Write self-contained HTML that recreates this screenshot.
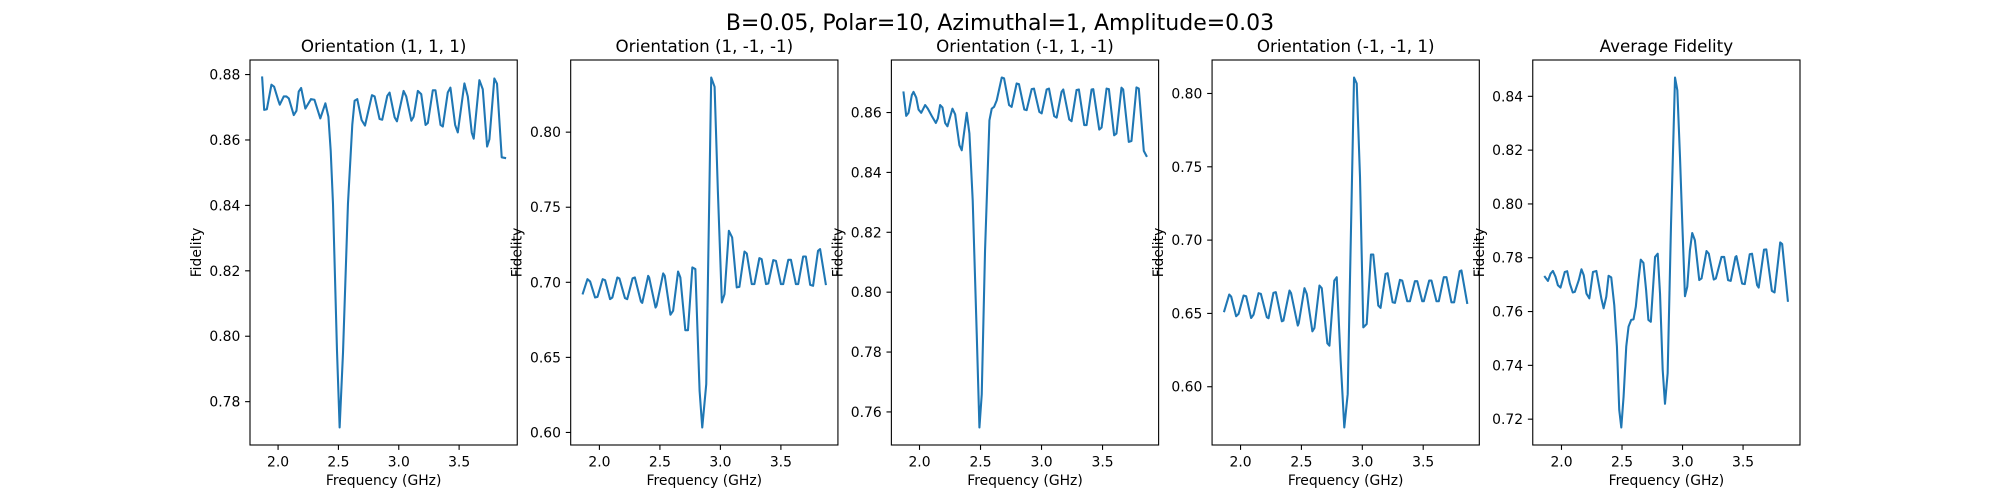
<!DOCTYPE html>
<html><head><meta charset="utf-8"><style>
html,body{margin:0;padding:0;background:#fff;}
svg{display:block;font-family:"DejaVu Sans","Liberation Sans",sans-serif;}
</style></head><body>
<svg id="fig" width="2000" height="500" viewBox="0 0 2000 500" xmlns="http://www.w3.org/2000/svg">
<rect width="2000" height="500" fill="#fff"/>
<text x="1000" y="30" font-size="22" text-anchor="middle">B=0.05, Polar=10, Azimuthal=1, Amplitude=0.03</text>
</svg>
<script>
const titles = ["Orientation (1, 1, 1)","Orientation (1, -1, -1)","Orientation (-1, 1, -1)","Orientation (-1, -1, 1)","Average Fidelity"];
const xTicks = [2.0, 2.5, 3.0, 3.5];
const xTickLabels = ["2.0","2.5","3.0","3.5"];
const yTicks1 = [0.78,0.80,0.82,0.84,0.86,0.88];
const yTicks2 = [0.60,0.65,0.70,0.75,0.80];
const yTicks3 = [0.76,0.78,0.80,0.82,0.84,0.86];
const yTicks4 = [0.60,0.65,0.70,0.75,0.80];
const yTicks5 = [0.72,0.74,0.76,0.78,0.80,0.82,0.84];

const freq1 = [1.868,1.885,1.907,1.945,1.967,2.000,2.014,2.047,2.069,2.089,2.130,2.152,2.171,2.191,2.226,2.273,2.301,2.350,2.392,2.417,2.436,2.455,2.488,2.510,2.538,2.579,2.615,2.634,2.656,2.692,2.720,2.778,2.800,2.841,2.863,2.905,2.924,2.966,2.985,3.040,3.062,3.104,3.123,3.158,3.186,3.222,3.241,3.282,3.304,3.346,3.365,3.406,3.428,3.467,3.489,3.544,3.572,3.605,3.621,3.668,3.696,3.732,3.751,3.792,3.814,3.853,3.881];
const fid1 = [0.8791,0.8692,0.8694,0.8769,0.8763,0.8723,0.8708,0.8733,0.8733,0.8727,0.8676,0.8689,0.8748,0.8759,0.8696,0.8725,0.8723,0.8666,0.8712,0.8671,0.8567,0.8405,0.7958,0.7721,0.7950,0.8405,0.8647,0.8720,0.8725,0.8661,0.8644,0.8737,0.8733,0.8664,0.8662,0.8735,0.8745,0.8669,0.8657,0.8750,0.8733,0.8659,0.8671,0.8750,0.8740,0.8646,0.8652,0.8752,0.8752,0.8646,0.8641,0.8745,0.8760,0.8646,0.8623,0.8773,0.8733,0.8622,0.8604,0.8783,0.8755,0.8580,0.8602,0.8788,0.8772,0.8547,0.8545];

const freq2 = [1.863,1.901,1.923,1.964,1.984,2.027,2.047,2.088,2.107,2.148,2.165,2.211,2.230,2.274,2.293,2.343,2.354,2.403,2.411,2.464,2.472,2.527,2.540,2.587,2.609,2.650,2.669,2.710,2.732,2.768,2.793,2.828,2.850,2.883,2.924,2.952,2.979,3.012,3.034,3.070,3.097,3.135,3.157,3.199,3.218,3.259,3.281,3.322,3.341,3.377,3.396,3.437,3.459,3.500,3.519,3.561,3.583,3.624,3.643,3.684,3.706,3.742,3.766,3.807,3.824,3.871];
const fid2 = [0.6926,0.7021,0.7006,0.6899,0.6903,0.7021,0.7014,0.6888,0.6899,0.7032,0.7026,0.6895,0.6888,0.7026,0.7032,0.6872,0.6863,0.7043,0.7032,0.6832,0.6843,0.7059,0.7043,0.6784,0.6810,0.7072,0.7032,0.6681,0.6681,0.7099,0.7088,0.6277,0.6033,0.6322,0.8364,0.8302,0.7609,0.6866,0.6921,0.7343,0.7299,0.6966,0.6970,0.7205,0.7192,0.6988,0.6988,0.7161,0.7154,0.6988,0.6992,0.7148,0.7143,0.6988,0.6988,0.7150,0.7150,0.6988,0.6988,0.7172,0.7172,0.6983,0.6977,0.7210,0.7221,0.6988];

const freq3 = [1.869,1.891,1.910,1.937,1.951,1.973,1.992,2.014,2.046,2.068,2.101,2.134,2.150,2.169,2.188,2.210,2.229,2.270,2.292,2.327,2.346,2.387,2.409,2.436,2.469,2.491,2.510,2.537,2.573,2.592,2.611,2.633,2.674,2.693,2.734,2.755,2.796,2.815,2.859,2.878,2.919,2.938,2.982,3.001,3.042,3.061,3.104,3.124,3.164,3.178,3.227,3.246,3.287,3.306,3.350,3.369,3.410,3.424,3.473,3.492,3.533,3.552,3.595,3.614,3.655,3.669,3.715,3.737,3.778,3.797,3.838,3.860];
const fid3 = [0.8667,0.8589,0.8599,0.8658,0.8669,0.8650,0.8610,0.8599,0.8625,0.8613,0.8588,0.8565,0.8580,0.8625,0.8617,0.8565,0.8554,0.8613,0.8594,0.8491,0.8474,0.8599,0.8530,0.8306,0.7860,0.7548,0.7659,0.8139,0.8574,0.8613,0.8619,0.8641,0.8717,0.8714,0.8625,0.8619,0.8697,0.8695,0.8610,0.8608,0.8678,0.8680,0.8602,0.8597,0.8677,0.8680,0.8588,0.8583,0.8669,0.8677,0.8577,0.8571,0.8675,0.8677,0.8558,0.8558,0.8677,0.8678,0.8543,0.8550,0.8680,0.8678,0.8524,0.8530,0.8683,0.8677,0.8502,0.8505,0.8684,0.8680,0.8472,0.8455];

const freq4 = [1.866,1.907,1.923,1.964,1.984,2.025,2.046,2.087,2.107,2.148,2.167,2.216,2.230,2.270,2.290,2.339,2.352,2.402,2.415,2.470,2.478,2.525,2.544,2.590,2.607,2.648,2.667,2.713,2.730,2.770,2.790,2.822,2.852,2.880,2.932,2.954,2.981,3.008,3.036,3.071,3.090,3.131,3.150,3.191,3.208,3.249,3.268,3.309,3.328,3.369,3.391,3.432,3.451,3.492,3.505,3.549,3.568,3.609,3.628,3.669,3.691,3.732,3.754,3.800,3.814,3.861];
const fid4 = [0.6515,0.6629,0.6615,0.6481,0.6497,0.6622,0.6617,0.6469,0.6492,0.6638,0.6633,0.6474,0.6467,0.6640,0.6645,0.6446,0.6451,0.6656,0.6638,0.6417,0.6433,0.6672,0.6633,0.6378,0.6401,0.6690,0.6672,0.6296,0.6280,0.6724,0.6747,0.6178,0.5722,0.5950,0.8109,0.8068,0.7431,0.6405,0.6428,0.6902,0.6902,0.6554,0.6538,0.6770,0.6774,0.6576,0.6572,0.6729,0.6724,0.6583,0.6583,0.6720,0.6720,0.6583,0.6583,0.6724,0.6724,0.6583,0.6583,0.6747,0.6747,0.6576,0.6576,0.6788,0.6793,0.6572];

const freq5 = [1.863,1.888,1.910,1.929,1.951,1.970,1.992,2.027,2.047,2.069,2.093,2.110,2.143,2.165,2.184,2.206,2.230,2.260,2.288,2.329,2.348,2.370,2.389,2.411,2.436,2.458,2.477,2.494,2.513,2.535,2.554,2.576,2.595,2.614,2.636,2.655,2.677,2.699,2.718,2.738,2.773,2.795,2.814,2.836,2.855,2.877,2.905,2.938,2.957,2.979,2.998,3.020,3.039,3.061,3.080,3.102,3.138,3.157,3.198,3.217,3.258,3.275,3.322,3.344,3.376,3.398,3.437,3.445,3.492,3.514,3.555,3.574,3.616,3.629,3.673,3.692,3.738,3.760,3.807,3.823,3.870];
const fid5 = [0.7729,0.7714,0.7741,0.7751,0.7729,0.7698,0.7689,0.7747,0.7750,0.7704,0.7671,0.7673,0.7717,0.7757,0.7735,0.7667,0.7649,0.7747,0.7751,0.7649,0.7612,0.7655,0.7733,0.7727,0.7624,0.7470,0.7235,0.7169,0.7284,0.7470,0.7544,0.7569,0.7571,0.7618,0.7717,0.7793,0.7781,0.7680,0.7569,0.7562,0.7803,0.7815,0.7667,0.7383,0.7257,0.7371,0.7927,0.8470,0.8423,0.8174,0.7927,0.7657,0.7692,0.7828,0.7892,0.7865,0.7717,0.7723,0.7825,0.7815,0.7719,0.7723,0.7803,0.7803,0.7717,0.7714,0.7803,0.7806,0.7704,0.7702,0.7813,0.7815,0.7698,0.7689,0.7830,0.7831,0.7677,0.7671,0.7857,0.7851,0.7640];

const panels = [
  {f:freq1, v:fid1, yt:yTicks1},
  {f:freq2, v:fid2, yt:yTicks2},
  {f:freq3, v:fid3, yt:yTicks3},
  {f:freq4, v:fid4, yt:yTicks4},
  {f:freq5, v:fid5, yt:yTicks5}
];
const NS = "http://www.w3.org/2000/svg";
const svg = document.getElementById('fig');
function mk(tag, attrs, parent){
  const e = document.createElementNS(NS, tag);
  for (const k in attrs) e.setAttribute(k, attrs[k]);
  parent.appendChild(e);
  return e;
}
const L = 250, R = 1800, T = 60, B = 445;
const W = (R - L) / (5 + 0.2 * 4), GAP = 0.2 * W;
panels.forEach((p, i) => {
  const x0 = L + i * (W + GAP), x1 = x0 + W;
  const fmin = Math.min(...p.f), fmax = Math.max(...p.f);
  const vmin = Math.min(...p.v), vmax = Math.max(...p.v);
  const xlo = fmin - 0.05 * (fmax - fmin), xhi = fmax + 0.05 * (fmax - fmin);
  const ylo = vmin - 0.05 * (vmax - vmin), yhi = vmax + 0.05 * (vmax - vmin);
  const sx = f => x0 + (f - xlo) / (xhi - xlo) * W;
  const sy = v => B - (v - ylo) / (yhi - ylo) * (B - T);
  const g = mk('g', {}, svg);
  
  
  const t = mk('text', {x: (x0 + x1) / 2, y: 52, 'font-size': 16.7, 'text-anchor': 'middle'}, g);
  t.textContent = titles[i];
  
  
  const pts = p.f.map((f, j) => sx(f).toFixed(2) + ',' + sy(p.v[j]).toFixed(2)).join(' ');
  const line = mk('polyline', {points: pts, fill: 'none', stroke: '#1f77b4', 'stroke-width': 2.08, 'stroke-linejoin': 'round', 'stroke-linecap': 'square'}, g);
  
  
  const frame = mk('rect', {x: x0, y: T, width: W, height: B - T, fill: 'none', stroke: '#000', 'stroke-width': 1.1}, g);
  
  
  xTicks.forEach((xt, k) => {
    const x = sx(xt);
    const tk = mk('line', {x1: x, x2: x, y1: B, y2: B + 4.9, stroke: '#000', 'stroke-width': 1.1}, g);
    
    
    const lb = mk('text', {x: x, y: 466.5, 'font-size': 13.9, 'text-anchor': 'middle'}, g);
    lb.textContent = xTickLabels[k];
    
    
  });
  p.yt.forEach(yv => {
    const y = sy(yv);
    const tk = mk('line', {x1: x0 - 4.9, x2: x0, y1: y, y2: y, stroke: '#000', 'stroke-width': 1.1}, g);
    
    
    const lb = mk('text', {x: x0 - 9.7, y: y + 5, 'font-size': 13.9, 'text-anchor': 'end'}, g);
    lb.textContent = yv.toFixed(2);
    
    
  });
  const xl = mk('text', {x: (x0 + x1) / 2, y: 485, 'font-size': 13.9, 'text-anchor': 'middle'}, g);
  xl.textContent = 'Frequency (GHz)';
  
  
  const yx = x0 - 49, yy = (T + B) / 2;
  const yl = mk('text', {x: yx, y: yy, 'font-size': 13.9, 'text-anchor': 'middle', transform: 'rotate(-90 ' + yx + ' ' + yy + ')'}, g);
  yl.textContent = 'Fidelity';
  
  
});
</script>
</body></html>
